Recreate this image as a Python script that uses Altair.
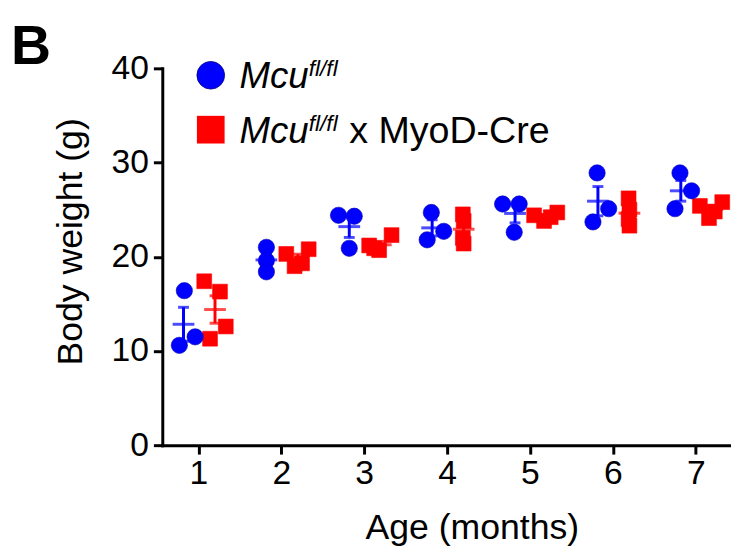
import altair as alt
import pandas as pd
import numpy as np

# ---------------- data ----------------
months = [1, 2, 3, 4, 5, 6, 7]

# Mcu fl/fl (blue circles), body weight in g, per month
ctrl_weights = [
    [16.4, 11.5, 10.6],
    [21.0, 19.6, 18.4],
    [24.4, 24.3, 20.9],
    [24.7, 22.7, 21.8],
    [25.6, 25.6, 22.6],
    [28.9, 25.1, 23.7],
    [28.9, 27.0, 25.1],
]
# horizontal scatter of each point (months)
ctrl_jitter = [
    [-0.17, -0.04, -0.23],
    [-0.18, -0.18, -0.18],
    [-0.31, -0.12, -0.18],
    [-0.19, -0.04, -0.24],
    [-0.33, -0.13, -0.19],
    [-0.19, -0.05, -0.24],
    [-0.19, -0.05, -0.25],
]

# Mcu fl/fl x MyoD-Cre (red squares)
ko_weights = [
    [17.4, 16.3, 12.6, 11.3],
    [20.3, 19.0, 19.3, 20.8],
    [21.2, 20.7, 20.9, 22.3],
    [24.5, 23.8, 22.0, 21.4],
    [24.4, 23.8, 24.2, 24.7],
    [26.2, 25.0, 24.0, 23.3],
    [25.4, 24.1, 24.8, 25.8],
]
ko_jitter = [
    [0.07, 0.26, 0.33, 0.14],
    [0.06, 0.16, 0.25, 0.33],
    [0.06, 0.18, 0.12, 0.33],
    [0.19, 0.20, 0.19, 0.20],
    [0.05, 0.17, 0.25, 0.33],
    [0.19, 0.20, 0.19, 0.20],
    [0.05, 0.16, 0.23, 0.32],
]

group_names = ["ctrl", "ko"]
group_centers = [-0.18, 0.20]
group_colors = ["#0000ff", "#ff0000"]
group_shapes = ["circle", "square"]
group_sizes = [272, 225]

y_ticks = [0, 10, 20, 30, 40]
legend_main = ["Mcu", "Mcu"]
legend_sup = ["fl/fl", "fl/fl"]
legend_tail = "x MyoD-Cre"
panel_letter = "B"
x_title = "Age (months)"
y_title = "Body weight (g)"

FONT = "Liberation Sans"

# ---------------- tables ----------------
weights_all = [ctrl_weights, ko_weights]
jitter_all = [ctrl_jitter, ko_jitter]
pts_rows, sum_rows = [], []
for g, name in enumerate(group_names):
    for i, m in enumerate(months):
        w = np.array(weights_all[g][i])
        for v, j in zip(w, jitter_all[g][i]):
            pts_rows.append({"group": name, "month": m, "weight": v, "xpos": m + j})
        mean = w.mean()
        sem = w.std(ddof=1) / np.sqrt(len(w))
        sum_rows.append({"group": name, "month": m, "mean": mean,
                         "lo": mean - sem, "hi": mean + sem,
                         "xc": m + group_centers[g]})
pts = pd.DataFrame(pts_rows)
summ = pd.DataFrame(sum_rows)

W, H = 575, 381
PX_PER_MONTH = 83.8
x0 = 0.564
xscale = alt.Scale(domain=[x0, x0 + W / PX_PER_MONTH], nice=False, zero=False)
yscale = alt.Scale(domain=[0, 40], nice=False)

xaxis = alt.Axis(values=months, title=x_title, labelPadding=3,
                 titleX=313, titleY=66, titleBaseline="top", titleAlign="center")
yaxis = alt.Axis(values=y_ticks, title=y_title, labelPadding=5,
                 titleX=-74, titleY=175, titleAngle=270, titleBaseline="bottom",
                 titleAlign="center")

layers = []
for g, name in enumerate(group_names):
    col = group_colors[g]
    p = pts[pts.group == name]
    s = summ[summ.group == name]
    layers.append(
        alt.Chart(p).mark_point(shape=group_shapes[g], filled=True, opacity=1,
                                size=group_sizes[g], color=col,
                                stroke=("#0000b0" if g == 0 else col),
                                strokeWidth=0.6)
        .encode(x=alt.X("xpos:Q", scale=xscale, axis=xaxis),
                y=alt.Y("weight:Q", scale=yscale, axis=yaxis))
    )
    layers.append(
        alt.Chart(s).mark_rule(color=col, strokeWidth=3)
        .encode(x=alt.X("xc:Q", scale=xscale, axis=xaxis),
                y=alt.Y("lo:Q", scale=yscale, axis=yaxis), y2="hi:Q")
    )
    for fld, sz in [("mean", 22), ("lo", 11), ("hi", 11)]:
        layers.append(
            alt.Chart(s).mark_tick(orient="horizontal", size=sz, thickness=3, color=col)
            .encode(x=alt.X("xc:Q", scale=xscale, axis=xaxis),
                    y=alt.Y(f"{fld}:Q", scale=yscale, axis=yaxis))
        )

# blue circles drawn on top of red squares
layers = layers[5:] + layers[:5]

one = pd.DataFrame({"a": [0]})

def txt(text, x, y, size, italic=False, bold=False, align="left"):
    return alt.Chart(one).mark_text(
        text=text, font=FONT, fontSize=size, align=align, baseline="alphabetic",
        fontStyle=("italic" if italic else "normal"),
        fontWeight=("bold" if bold else "normal"), color="black"
    ).encode(x=alt.value(x), y=alt.value(y))

# legend symbols and text
leg = [
    alt.Chart(one).mark_point(shape="circle", filled=True, size=784, color="#0000ff",
                              stroke="#000080", strokeWidth=0.8, opacity=1)
    .encode(x=alt.value(49), y=alt.value(7)),
    alt.Chart(one).mark_point(shape="square", filled=True, size=784, color="#ff0000",
                              opacity=1)
    .encode(x=alt.value(49), y=alt.value(62)),
    txt(legend_main[0], 78, 20, 37, italic=True),
    txt(legend_sup[0], 148, 8, 23, italic=True),
    txt(legend_main[1], 78, 75, 37, italic=True),
    txt(legend_sup[1], 148, 63, 23, italic=True),
    txt(legend_tail, 189, 75, 38),
    txt(panel_letter, -153, -4, 56, bold=True),
]

chart = alt.layer(*layers, *leg).properties(
    width=W, height=H,
    autosize=alt.AutoSizeParams(type="none"),
    padding={"left": 156, "top": 58, "right": 0, "bottom": 106},
).configure_view(stroke=None).configure_axis(
    grid=False, domainColor="black", domainWidth=3, tickColor="black",
    tickWidth=3, tickSize=9, labelFont=FONT, labelFontSize=34, labelColor="black",
    titleFont=FONT, titleFontSize=36, titleColor="black", titleFontWeight="normal",
    domainCap="square",
)

chart.save("out.html", embed_options={"renderer": "svg", "actions": False})
